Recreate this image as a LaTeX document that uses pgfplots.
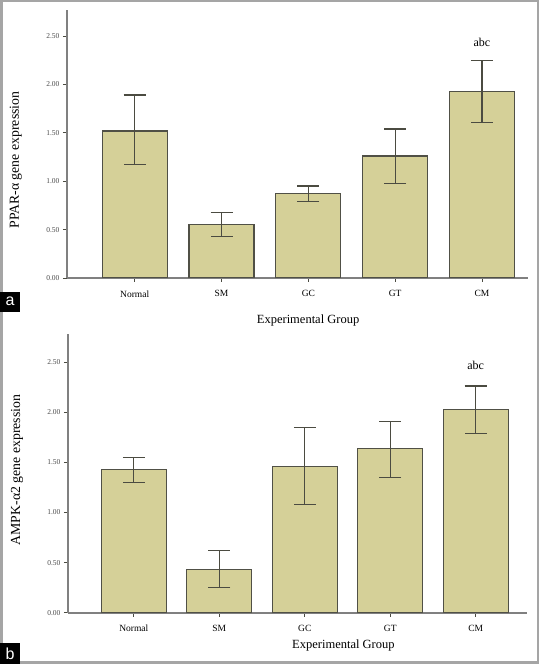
\documentclass[border=0pt]{standalone}
\usepackage{fontspec}
\setmainfont{Liberation Serif}
\newfontfamily\labelfont{Liberation Sans}
\usepackage{pgfplots}
\usepackage{pgfplotstable}
\pgfplotsset{compat=1.18}
\definecolor{barfill}{RGB}{213,208,152}
\definecolor{baredge}{RGB}{80,80,70}
\definecolor{axgray}{RGB}{128,128,128}
\definecolor{errc}{RGB}{75,75,65}
\definecolor{framegray}{RGB}{165,165,165}

% x = category index, y = mean, ep = upper error, em = lower error
\pgfplotstableread{
x y ep em
0 1.52 0.37 0.35
1 0.55 0.13 0.12
2 0.87 0.08 0.08
3 1.26 0.28 0.28
4 1.93 0.32 0.32
}\dataA
\pgfplotstableread{
x y ep em
0 1.43 0.12 0.13
1 0.43 0.19 0.18
2 1.46 0.39 0.38
3 1.64 0.27 0.29
4 2.03 0.23 0.24
}\dataB

\pgfplotsset{
  myax/.style={
    scale only axis,
    ymin=0,
    enlargelimits=false,
    axis x line*=bottom,
    axis y line*=left,
    axis line style={axgray, line width=1.7pt, -},
    tick align=outside,
    major tick length=4pt,
    tick style={errc, line width=0.9pt},
    xtick={0,1,2,3,4},
    xticklabels={Normal,SM,GC,GT,CM},
    ytick={0,0.5,1,1.5,2,2.5},
    /pgf/number format/assume math mode=true,
    yticklabel style={/pgf/number format/fixed,
                      /pgf/number format/fixed zerofill,
                      /pgf/number format/precision=2,
                      font=\fontsize{7.5}{8}\selectfont, text=black!70},
    xticklabel style={font=\fontsize{9.5}{10}\selectfont, yshift=-5pt},
    label style={font=\fontsize{13.8}{15}\selectfont},
    xlabel style={font=\fontsize{12.5}{14}\selectfont},
  },
  mybar/.style={
    ybar, bar width=65pt,
    fill=barfill, draw=baredge, line width=1.2pt,
    error bars/.cd,
      y dir=both, y explicit,
      error bar style={errc, line width=1.3pt},
      error mark options={rotate=90, mark size=11pt, line width=1.3pt, errc},
  },
}

\begin{document}
\begin{tikzpicture}[x=1pt,y=1pt]
\useasboundingbox (0,0) rectangle (539,664);
\fill[white] (0,0) rectangle (539,664);

% panel a
\begin{axis}[myax,
  at={(67pt,386pt)}, anchor=south west,
  width=461pt, height=268pt,
  xmin=-0.78, xmax=4.53, ymax=2.77,
  xlabel={Experimental Group},
  ylabel={PPAR-α gene expression},
  xlabel style={at={(axis description cs:0.523,-0.157)}, anchor=center},
  ylabel style={at={(axis description cs:-0.111,0.44)}, anchor=center},
]
\addplot[mybar] table[x=x, y=y, y error plus=ep, y error minus=em] {\dataA};
\node[font=\fontsize{12}{14}\selectfont] at (axis cs:4,2.43) {abc};
\end{axis}

% panel b
\begin{axis}[myax,
  at={(68pt,51.3pt)}, anchor=south west,
  width=459pt, height=278.7pt,
  xmin=-0.77, xmax=4.6, ymax=2.78,
  xlabel={Experimental Group},
  ylabel={AMPK-α2 gene expression},
  xlabel style={at={(axis description cs:0.600,-0.116)}, anchor=center},
  ylabel style={at={(axis description cs:-0.111,0.512)}, anchor=center},
]
\addplot[mybar] table[x=x, y=y, y error plus=ep, y error minus=em] {\dataB};
\node[font=\fontsize{12}{14}\selectfont] at (axis cs:4,2.47) {abc};
\end{axis}

% outer frame
\draw[framegray, line width=2.5pt] (1.25,1.25) rectangle (537.75,662.75);

% panel letters
\fill[black] (0,352) rectangle (20,372);
\node[white, font=\labelfont\fontsize{16}{18}\selectfont] at (10,362.5) {a};
\fill[black] (0,0) rectangle (20,21);
\node[white, font=\labelfont\fontsize{16}{18}\selectfont] at (10,10.5) {b};
\end{tikzpicture}
\end{document}
